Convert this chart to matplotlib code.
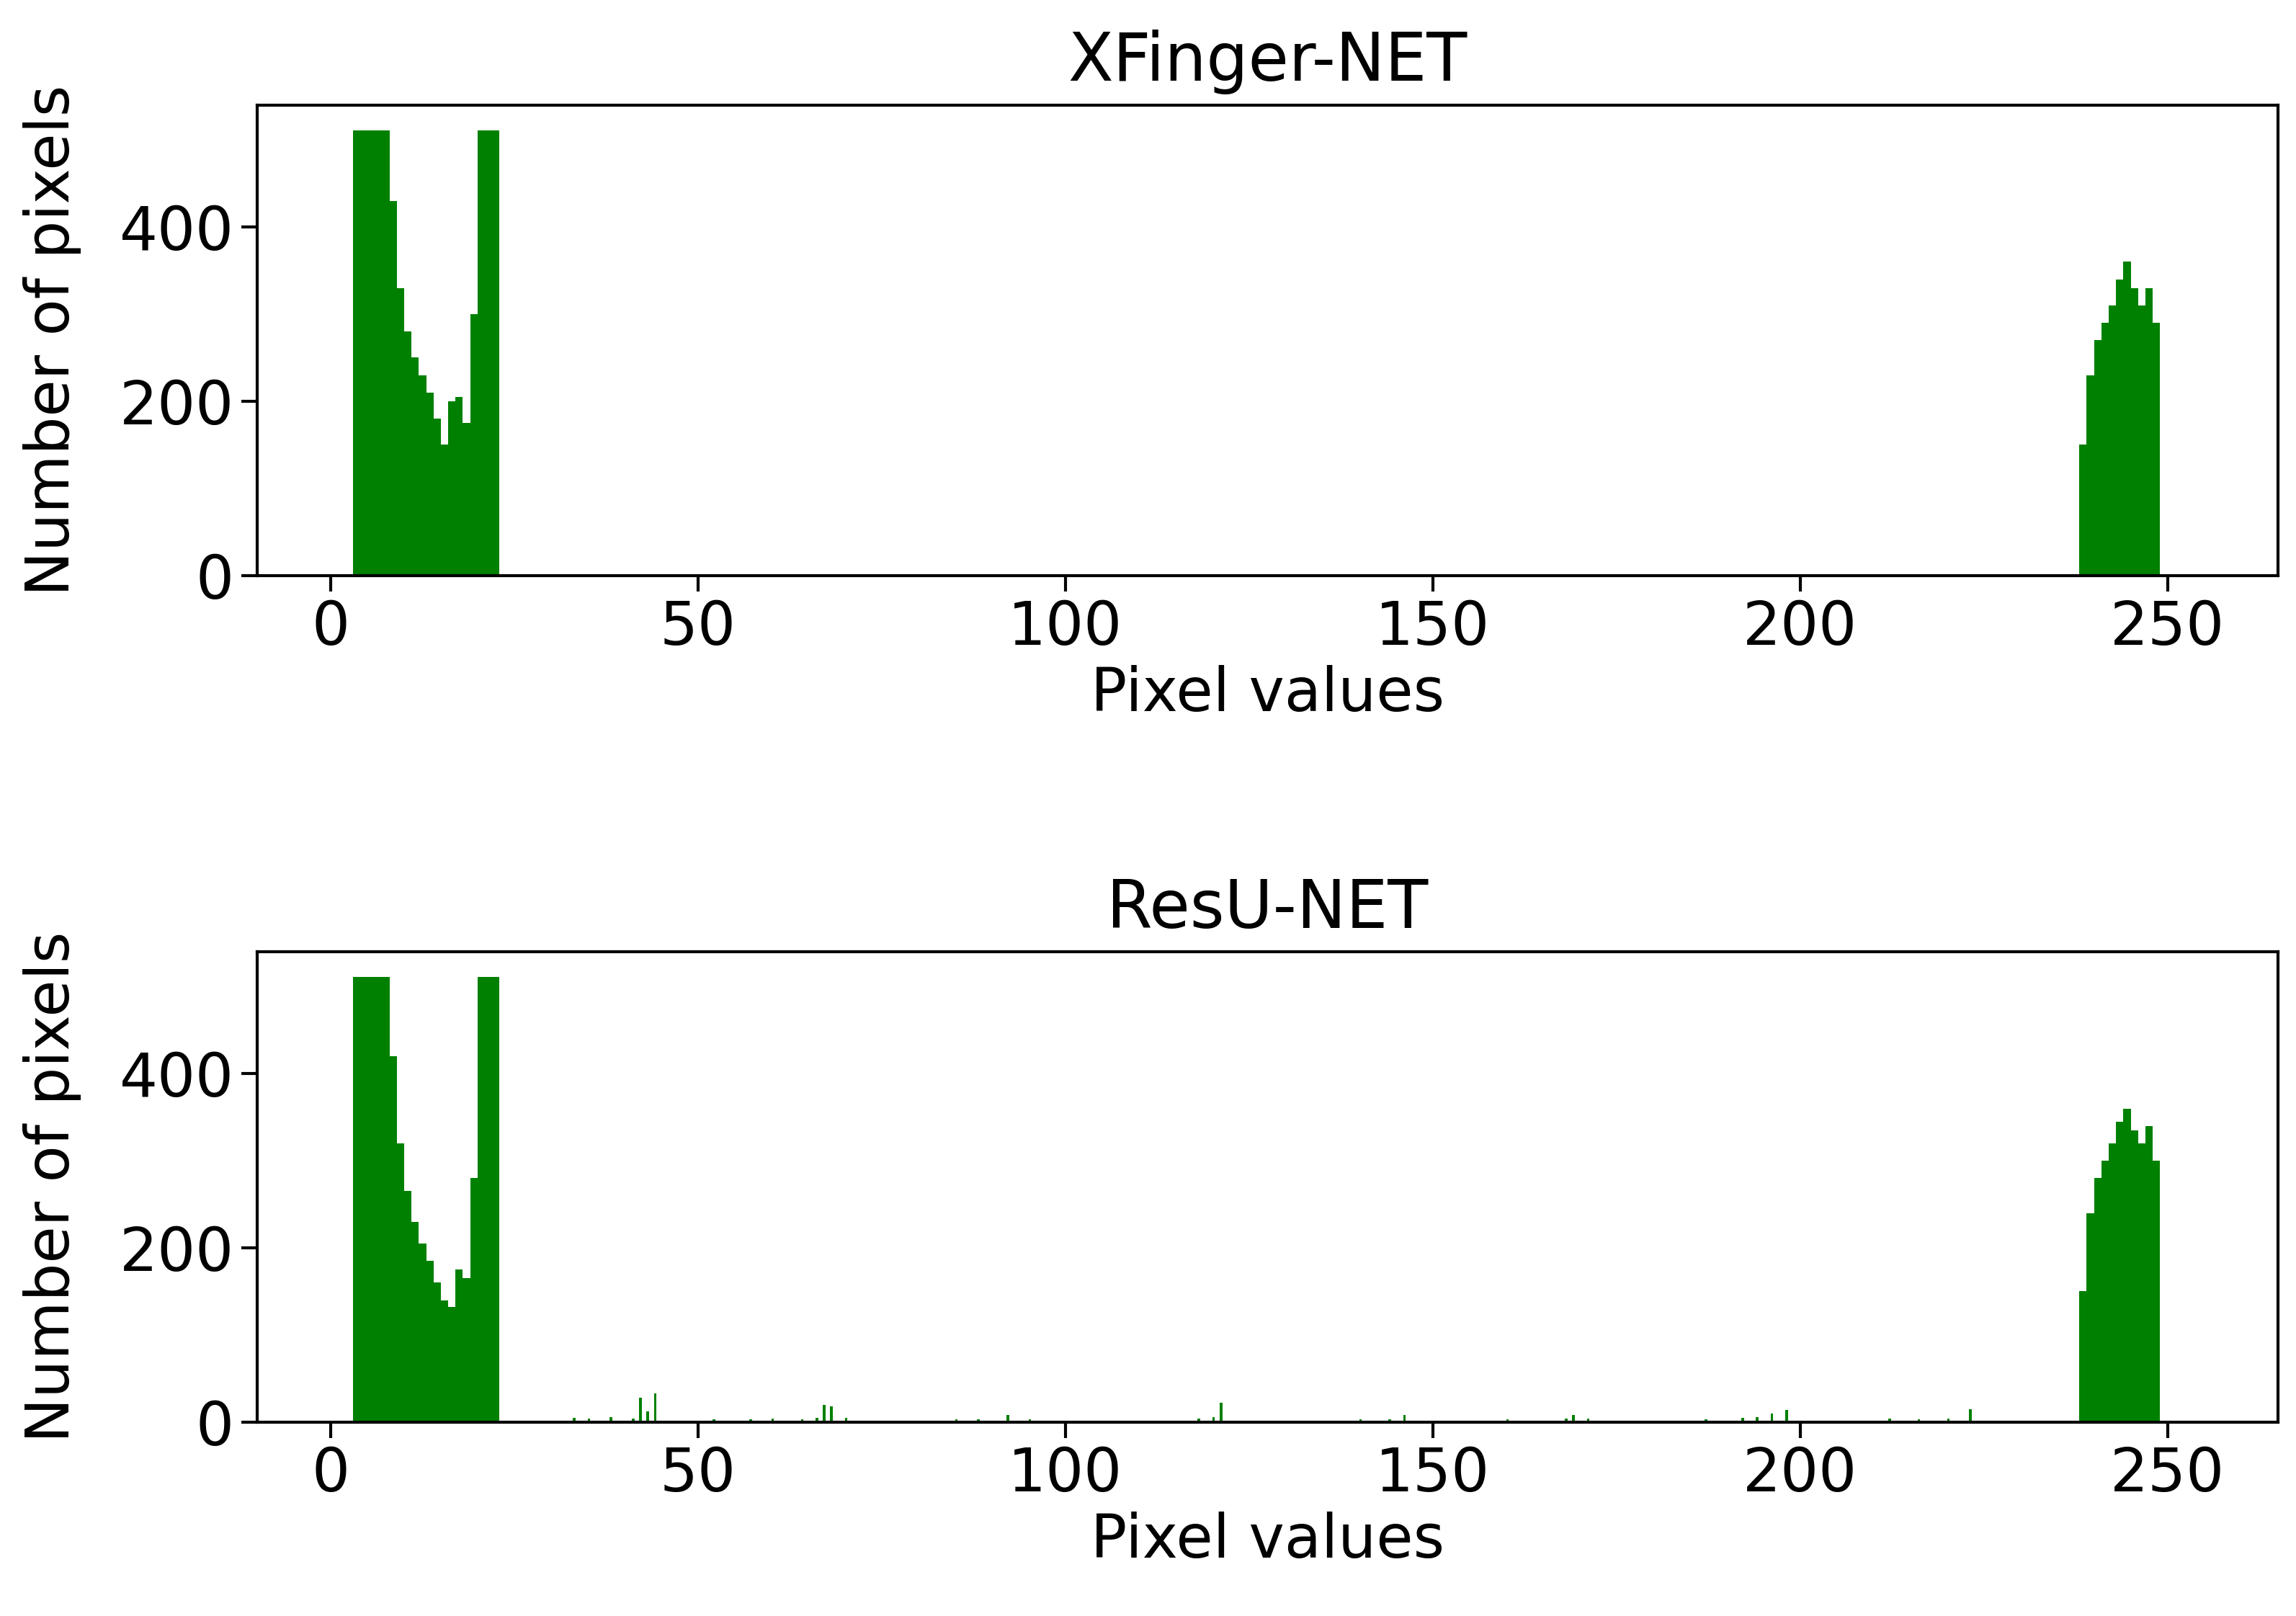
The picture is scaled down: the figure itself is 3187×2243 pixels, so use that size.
import numpy as np
import matplotlib
matplotlib.use("Agg")
import matplotlib.pyplot as plt

titles = ["XFinger-NET", "ResU-NET"]
left_x = list(range(3, 23))
left_top = [511, 511, 511, 511, 511, 430, 330, 280, 250, 230, 210, 180, 150, 200, 205, 175, 300, 511, 511, 511]
left_bot = [511, 511, 511, 511, 511, 420, 320, 265, 230, 205, 185, 160, 140, 132, 175, 165, 280, 511, 511, 511]
right_x = list(range(238, 249))
right_top = [150, 230, 270, 290, 310, 340, 360, 330, 310, 330, 290]
right_bot = [150, 240, 280, 300, 320, 345, 360, 335, 320, 340, 300]
spike_x = [33, 35, 38, 41, 42, 43, 44, 52, 57, 60, 64, 66, 67, 68, 70, 85, 88, 92, 95, 118, 120, 121,
           140, 144, 146, 160, 168, 169, 171, 187, 192, 194, 196, 198, 212, 216, 220, 223]
spike_y = [5, 4, 6, 4, 28, 12, 33, 3, 3, 4, 3, 5, 20, 18, 5, 3, 3, 8, 3, 4, 6, 22,
           3, 3, 8, 3, 4, 8, 4, 3, 5, 6, 10, 14, 4, 3, 4, 15]

fig, axes = plt.subplots(2, 1, figsize=(15.935, 11.215), dpi=200)
for i, ax in enumerate(axes):
    lt = left_top if i == 0 else left_bot
    rt = right_top if i == 0 else right_bot
    ax.bar(left_x, lt, width=1, align='edge', color='green', linewidth=0)
    ax.bar(right_x, rt, width=1, align='edge', color='green', linewidth=0)
    if i == 1:
        ax.bar(spike_x, spike_y, width=0.35, align='edge', color='green', linewidth=0)
    ax.set_xlim(-10, 265)
    ax.set_ylim(0, 540)
    ax.set_yticks([0, 200, 400])
    ax.set_xticks([0, 50, 100, 150, 200, 250])
    ax.tick_params(labelsize=30, width=1.5, length=8)
    for s in ax.spines.values():
        s.set_linewidth(1.5)
    ax.set_title(titles[i], fontsize=33, pad=12)
    ax.set_xlabel("Pixel values", fontsize=30)
    ax.set_ylabel("Number of pixels", fontsize=30)
    ax.yaxis.set_label_coords(-0.087, 0.5)
fig.subplots_adjust(left=0.112, right=0.992, top=0.935, bottom=0.12, hspace=0.8)
fig.savefig("out.png", dpi=200)
